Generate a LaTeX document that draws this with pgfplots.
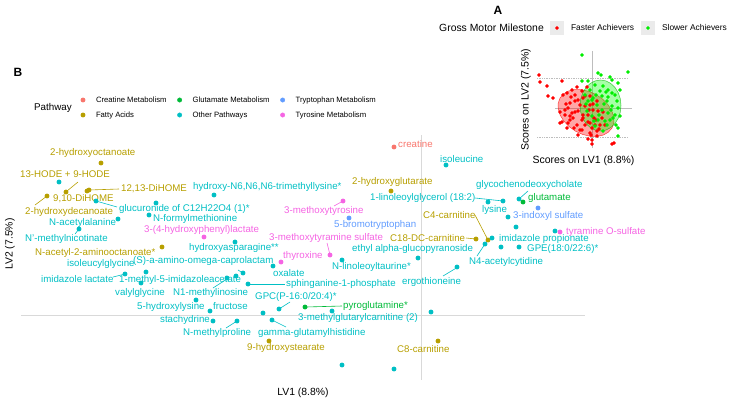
\documentclass[border=0pt]{standalone}
\usepackage{fontspec}
\setmainfont{Liberation Sans}
\usepackage{pgfplots}
\pgfplotsset{compat=1.18}
\definecolor{cCre}{HTML}{F8766D}
\definecolor{cFat}{HTML}{B79F00}
\definecolor{cGlu}{HTML}{00BA38}
\definecolor{cOth}{HTML}{00BFC4}
\definecolor{cTrp}{HTML}{619CFF}
\definecolor{cTyr}{HTML}{F564E3}
\definecolor{axgray}{HTML}{D9D9D9}
\definecolor{insgray}{HTML}{BDBDBD}
\definecolor{keybg}{HTML}{EBEBEB}
\definecolor{fred}{HTML}{FF0000}
\definecolor{fgreen}{HTML}{00EE00}
\newcommand{\labfont}{\fontsize{9.7}{11}\selectfont}
\newcommand{\lab}[4]{\node[anchor=west,inner sep=0pt,text=#1,font=\labfont] at (axis cs:#2,#3) {#4};}
\pgfplotsset{
  pxaxis/.style={hide axis, x=1pt, y=1pt, y dir=reverse, xmin=0, xmax=733, ymin=0, ymax=402,
    clip=false, anchor=south west, at={(0,0)}},
  pathleg/.style={legend image code/.code={\path[draw=none,fill=none] (-3pt,-3pt) rectangle (3pt,3pt); \draw[##1] plot coordinates {(0pt,0pt)};}},
  grpleg/.style={legend image code/.code={\path[draw=none,fill=keybg] (-7pt,-7pt) rectangle (7pt,7pt); \draw[##1] plot coordinates {(0pt,0pt)};}},
  seg/.style={line width=0.6pt, forget plot},
}
\begin{document}
\begin{tikzpicture}
\useasboundingbox (0,0) rectangle (733pt,402pt);
% ---------------- Panel B: loadings ----------------
\begin{axis}[pxaxis,
  legend columns=3, legend cell align=left,
  legend style={at={(axis cs:80,96.4)}, anchor=north west, draw=none, fill=none, inner sep=0pt, outer sep=0pt,
    font=\fontsize{7.7}{9}\selectfont, row sep=7.8pt,
    nodes={inner sep=0pt, text height=5.6pt, text depth=1.6pt},
    /tikz/every odd column/.append style={column sep=10pt},
    /tikz/every even column/.append style={column sep=10pt}}]
% axis cross lines
\addplot[axgray, line width=0.8pt, forget plot] coordinates {(21,315) (585,315)};
\addplot[axgray, line width=0.8pt, forget plot] coordinates {(421,135) (421,380)};
% connector segments
\addplot[seg,cFat] coordinates {(67,191) (78,182)};
\addplot[seg,cFat] coordinates {(47,196) (35,205)};
\addplot[seg,cFat] coordinates {(89,190) (119,189)};
\addplot[seg,cFat] coordinates {(475,215) (488,240)};
\addplot[seg,cFat] coordinates {(466,238) (476,239)};
\addplot[seg,cOth] coordinates {(96,201) (117,207)};
\addplot[seg,cOth] coordinates {(79,229) (75,234)};
\addplot[seg,cOth] coordinates {(113,277) (125,274)};
\addplot[seg,cOth] coordinates {(213,288) (227,279)};
\addplot[seg,cOth] coordinates {(238,270) (243,273)};
\addplot[seg,cOth] coordinates {(248,284) (285,284)};
\addplot[seg,cOth] coordinates {(279,309) (290,302)};
\addplot[seg,cOth] coordinates {(237,321) (226,328)};
\addplot[seg,cOth] coordinates {(272,320) (286,327)};
\addplot[seg,cOth] coordinates {(475,198) (503,201)};
\addplot[seg,cOth] coordinates {(519,199) (528,191)};
\addplot[seg,cOth] coordinates {(485,244) (477,256)};
\addplot[seg,cOth] coordinates {(458,267) (443,276)};
\addplot[seg,cTyr] coordinates {(343,201) (334,206)};
\addplot[seg,cTyr] coordinates {(330,255) (327,243)};
\addplot[seg,cGlu] coordinates {(306,307) (342,306)};
% points (legend order row-wise)
\addplot[only marks, mark=*, mark size=2.2pt, cCre, pathleg] coordinates {(394,147)};
\addlegendentry{Creatine Metabolism}
\addplot[only marks, mark=*, mark size=2.2pt, cGlu, pathleg] coordinates {(523,202) (305,307)};
\addlegendentry{Glutamate Metabolism}
\addplot[only marks, mark=*, mark size=2.2pt, cTrp, pathleg] coordinates {(349,218) (538,208)};
\addlegendentry{Tryptophan Metabolism}
\addplot[only marks, mark=*, mark size=2.2pt, cFat, pathleg] coordinates {
 (101,163) (66,192) (47,196) (87,191) (89,190) (162,247) (391,191) (476,239) (488,240) (269,341) (438,341)};
\addlegendentry{Fatty Acids}
\addplot[only marks, mark=*, mark size=2.2pt, cOth, pathleg] coordinates {
 (59,182) (96,201) (156,203) (214,195) (149,215) (118,219) (79,229) (235,242) (273,266) (125,274)
 (146,272) (141,283) (227,278) (236,276) (243,273) (248,284) (196,300) (210,311) (213,321) (237,321)
 (263,313) (279,309) (272,320) (332,311) (431,312) (342,365) (394,369) (342,260) (418,258) (457,267)
 (446,165) (488,202) (503,201) (519,199) (508,217) (516,227) (555,231) (492,238) (485,244) (501,247) (519,247)};
\addlegendentry{Other Pathways}
\addplot[only marks, mark=*, mark size=2.2pt, cTyr, pathleg] coordinates {(204,237) (343,201) (330,255) (281,262) (560,232)};
\addlegendentry{Tyrosine Metabolism}
% labels
\lab{cFat}{50}{153}{2-hydroxyoctanoate}
\lab{cFat}{20}{174}{13-HODE + 9-HODE}
\lab{cFat}{53}{199}{9,10-DiHOME}
\lab{cFat}{121}{189}{12,13-DiHOME}
\lab{cFat}{25}{211.5}{2-hydroxydecanoate}
\lab{cFat}{35}{253}{N-acetyl-2-aminooctanoate*}
\lab{cFat}{352}{182}{2-hydroxyglutarate}
\lab{cFat}{423}{215}{C4-carnitine}
\lab{cFat}{390}{238}{C18-DC-carnitine}
\lab{cFat}{247}{348}{9-hydroxystearate}
\lab{cFat}{397}{349}{C8-carnitine}
\lab{cCre}{398}{144}{creatine}
\lab{cGlu}{528}{198}{glutamate}
\lab{cGlu}{343}{306}{pyroglutamine*}
\lab{cTrp}{334}{225}{5-bromotryptophan}
\lab{cTrp}{513}{216}{3-indoxyl sulfate}
\lab{cTyr}{144}{230}{3-(4-hydroxyphenyl)lactate}
\lab{cTyr}{284}{211}{3-methoxytyrosine}
\lab{cTyr}{269}{238}{3-methoxytyramine sulfate}
\lab{cTyr}{283}{256}{thyroxine}
\lab{cTyr}{566}{232}{tyramine O-sulfate}
\lab{cOth}{193}{187}{hydroxy-N6,N6,N6-trimethyllysine*}
\lab{cOth}{119}{209}{glucuronide of C12H22O4 (1)*}
\lab{cOth}{153}{219}{N-formylmethionine}
\lab{cOth}{49}{222.5}{N-acetylalanine}
\lab{cOth}{25}{239}{N'-methylnicotinate}
\lab{cOth}{189}{248}{hydroxyasparagine**}
\lab{cOth}{67}{264}{isoleucylglycine}
\lab{cOth}{133}{261}{(S)-a-amino-omega-caprolactam}
\lab{cOth}{273}{273}{oxalate}
\lab{cOth}{41}{279}{imidazole lactate}
\lab{cOth}{119}{280}{1-methyl-5-imidazoleacetate}
\lab{cOth}{115}{293}{valylglycine}
\lab{cOth}{173}{293}{N1-methylinosine}
\lab{cOth}{286}{284}{sphinganine-1-phosphate}
\lab{cOth}{137}{307}{5-hydroxylysine}
\lab{cOth}{213}{306}{fructose}
\lab{cOth}{255}{297}{GPC(P-16:0/20:4)*}
\lab{cOth}{298}{318}{3-methylglutarylcarnitine (2)}
\lab{cOth}{160}{320}{stachydrine}
\lab{cOth}{183}{333}{N-methylproline}
\lab{cOth}{258}{333}{gamma-glutamylhistidine}
\lab{cOth}{440}{159}{isoleucine}
\lab{cOth}{370}{198}{1-linoleoylglycerol (18:2)}
\lab{cOth}{476}{185}{glycochenodeoxycholate}
\lab{cOth}{482}{210}{lysine}
\lab{cOth}{499}{239}{imidazole propionate}
\lab{cOth}{527}{249}{GPE(18:0/22:6)*}
\lab{cOth}{469}{262}{N4-acetylcytidine}
\lab{cOth}{352}{249}{ethyl alpha-glucopyranoside}
\lab{cOth}{332}{267}{N-linoleoyltaurine*}
\lab{cOth}{402}{282}{ergothioneine}
% titles
\node[anchor=west, inner sep=0pt, font=\fontsize{9.8}{11}\selectfont] at (axis cs:34,108) {Pathway};
\node[inner sep=0pt, font=\fontsize{12}{14}\selectfont\bfseries] at (axis cs:18,72) {B};
\node[inner sep=0pt, font=\fontsize{10.4}{12}\selectfont] at (axis cs:303,393) {LV1 (8.8\%)};
\node[inner sep=0pt, rotate=90, font=\fontsize{10.4}{12}\selectfont] at (axis cs:10,244) {LV2 (7.5\%)};
\end{axis}
% ---------------- Panel A: scores ----------------
\begin{axis}[pxaxis,
  legend columns=2, legend cell align=left,
  legend style={at={(axis cs:550,21)}, anchor=north west, draw=none, fill=none, inner sep=0pt, outer sep=0pt,
    font=\fontsize{8.4}{10}\selectfont,
    nodes={inner sep=0pt, text height=6pt, text depth=1.7pt},
    /tikz/every odd column/.append style={column sep=7pt},
    /tikz/every even column/.append style={column sep=7pt}}]
\addplot[insgray, line width=0.7pt, forget plot] coordinates {(592,51) (592,148)};
\addplot[insgray, line width=0.7pt, forget plot] coordinates {(555,108) (632,108)};
\addplot[insgray, line width=0.7pt, densely dotted, forget plot] coordinates {(537,78) (628,78)};
\addplot[insgray, line width=0.7pt, densely dotted, forget plot] coordinates {(537,137) (628,137)};
\addplot[only marks, mark=*, mark size=1.6pt, fred, grpleg] coordinates {
 (539,75) (540,82) (547,86) (548,96) (553,98) (562,81) (612,144) (614,143) (560,123) (562,122)
 (567,128) (570,116) (578,135) (588,139) (590,133) (591,135) (597,136) (595,125) (563,95) (567,93)
 (572,90) (577,87) (575,101) (568,108) (572,113) (578,111) (582,120) (585,106) (588,115) (585,125)
 (577,125) (580,130) (573,118) (570,103) (583,98) (590,96) (597,101) (598,111) (602,118) (605,125)
 (593,110) (590,123) (575,95) (565,115) (568,123) (587,87) (582,91) (590,105) (594,118) (599,129)
 (583,115) (565,110) (570,120) (575,112) (580,105) (583,118) (588,122) (592,128) (596,120) (600,125)
 (578,100) (585,96) (593,104) (574,128) (566,104) (582,130) (589,110) (597,131) (603,112) (571,97)
 (560,112) (592,140) (592,144)};
\addlegendentry{Faster Achievers}
\addplot[only marks, mark=*, mark size=1.6pt, fgreen, grpleg] coordinates {
 (582,55) (598,73) (601,75) (610,77) (612,80) (628,72) (618,83) (582,81) (588,81) (618,136)
 (618,128) (620,116) (618,108) (617,101) (615,95) (608,90) (603,86) (595,85) (590,90) (602,96)
 (607,101) (612,106) (608,113) (602,110) (597,105) (593,98) (588,101) (587,111) (592,116) (598,120)
 (605,121) (610,120) (615,115) (585,95) (600,91) (612,93) (607,125) (595,126) (603,131) (596,95)
 (604,104) (611,110) (606,92) (599,115) (592,100) (613,118) (586,104) (620,90) (594,121) (608,97) (616,125)};
\addlegendentry{Slower Achievers}
\addplot[fill=red, fill opacity=0.35, draw=red, draw opacity=0.7, line width=0.5pt, forget plot] coordinates {
 (611.98,128.00) (608.37,132.20) (603.25,135.08) (596.95,136.47) (589.90,136.25) (582.58,134.45)
 (575.50,131.19) (569.14,126.69) (563.92,121.25) (560.21,115.25) (558.25,109.10) (558.19,103.22)
 (560.02,98.00) (563.63,93.80) (568.75,90.92) (575.05,89.53) (582.10,89.75) (589.42,91.55)
 (596.50,94.81) (602.86,99.31) (608.08,104.75) (611.79,110.75) (613.75,116.90) (613.81,122.78)} -- cycle;
\addplot[fill=green, fill opacity=0.35, draw=green!70!black, draw opacity=0.7, line width=0.5pt, forget plot] coordinates {
 (621.00,105.50) (620.30,112.10) (618.25,118.25) (615.00,123.53) (610.75,127.58) (605.81,130.13)
 (600.50,131.00) (595.19,130.13) (590.25,127.58) (586.00,123.53) (582.75,118.25) (580.70,112.10)
 (580.00,105.50) (580.70,98.90) (582.75,92.75) (586.00,87.47) (590.25,83.42) (595.19,80.87)
 (600.50,80.00) (605.81,80.87) (610.75,83.42) (615.00,87.47) (618.25,92.75) (620.30,98.90)} -- cycle;
\node[anchor=west, inner sep=0pt, font=\fontsize{10.4}{12}\selectfont] at (axis cs:439,28) {Gross Motor Milestone};
\node[inner sep=0pt, font=\fontsize{12}{14}\selectfont\bfseries] at (axis cs:498,10) {A};
\node[inner sep=0pt, font=\fontsize{10.5}{12}\selectfont] at (axis cs:583.5,161) {Scores on LV1 (8.8\%)};
\node[inner sep=0pt, rotate=90, font=\fontsize{10.5}{12}\selectfont] at (axis cs:526,100) {Scores on LV2 (7.5\%)};
\end{axis}
\end{tikzpicture}
\end{document}
